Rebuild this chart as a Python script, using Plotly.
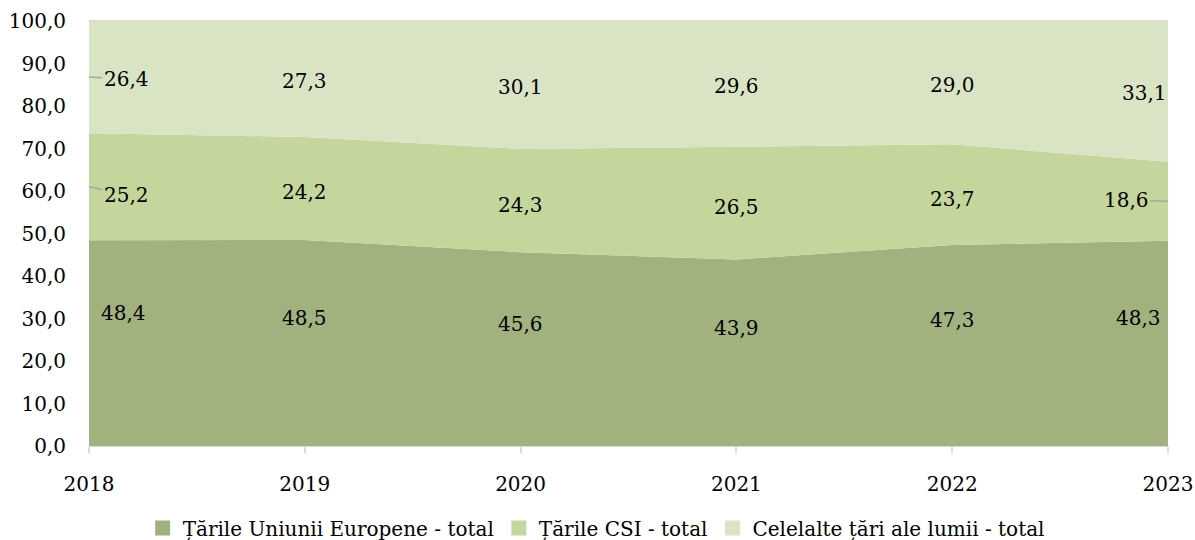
import plotly.graph_objects as go

years = [2018, 2019, 2020, 2021, 2022, 2023]
eu = [48.4, 48.5, 45.6, 43.9, 47.3, 48.3]
csi = [25.2, 24.2, 24.3, 26.5, 23.7, 18.6]
other = [26.4, 27.3, 30.1, 29.6, 29.0, 33.1]
names = ["Țările Uniunii Europene - total", "Țările CSI - total", "Celelalte țări ale lumii - total"]
colors = ["#A2B27F", "#C4D69B", "#D9E4C4"]
y_ticks = [0, 10, 20, 30, 40, 50, 60, 70, 80, 90, 100]

FONT = "DejaVu Serif"
fig = go.Figure()
series = [eu, csi, other]
for vals, nm, col in zip(series, names, colors):
    fig.add_trace(go.Scatter(
        x=years, y=vals, name=nm, stackgroup="one", mode="none",
        fillcolor=col, hoverinfo="skip", showlegend=False,
    ))
# legend entries with square markers
for nm, col in zip(names, colors):
    fig.add_trace(go.Scatter(
        x=[None], y=[None], mode="markers", name=nm,
        marker=dict(symbol="square", size=15, color=col), showlegend=True,
    ))

# data labels placed relative to band midpoints
base = [0.0] * len(years)
label_yshift = [25, -4, -2]
last_xshift = [-30, -42, -24]
for si, vals in enumerate(series):
    for i, (yr, v) in enumerate(zip(years, vals)):
        mid = base[i] + v / 2
        xshift = 0
        yshift = label_yshift[si]
        leader = False
        if i == 0:
            xshift = 37 if si != 0 else 34
            leader = si != 0
            if si == 0:
                yshift = 30
            if si == 1:
                yshift = -8
        elif i == len(years) - 1:
            xshift = last_xshift[si]
            if si == 1:
                yshift = 1
                leader = True
        txt = f"{v:.1f}".replace(".", ",")
        if leader:
            fig.add_annotation(
                x=yr, y=mid, text=txt, showarrow=True, arrowhead=0,
                arrowcolor="#A6A6A6", arrowwidth=1.5, ax=xshift, ay=-yshift,
                axref="pixel", ayref="pixel", standoff=0,
                font=dict(family=FONT, size=20, color="#000000"),
            )
        else:
            fig.add_annotation(
                x=yr, y=mid, text=txt, showarrow=False, xshift=xshift,
                yshift=yshift,
                font=dict(family=FONT, size=20, color="#000000"),
            )
    base = [b + v for b, v in zip(base, vals)]

fig.update_layout(
    width=1195, height=540,
    margin=dict(l=89, r=27, t=21, b=94, autoexpand=False),
    paper_bgcolor="white", plot_bgcolor="white",
    separators=",.",
    font=dict(family=FONT, size=20, color="#000000"),
    showlegend=True,
    legend=dict(orientation="h", x=0.47, xanchor="center", y=-0.193, yanchor="middle",
                traceorder="normal", font=dict(family=FONT, size=20)),
    xaxis=dict(range=[2018, 2023], tickvals=years, ticktext=[str(y) for y in years],
               showgrid=False, zeroline=False, showline=True, linecolor="#D9D9D9",
               mirror=True, ticks="outside", tickcolor="#D9D9D9", ticklen=6, tickwidth=1.5,
               automargin=False, ticklabeloverflow="allow", ticklabelstandoff=14),
    yaxis=dict(range=[0, 100], tickvals=y_ticks, tickformat=".1f", showgrid=False,
               zeroline=False, showline=False, ticks="", ticklabelstandoff=22,
               automargin=False),
)

fig.write_html(
    "out.html",
    config={"displayModeBar": False},
    post_script="document.body.style.margin='0';document.body.style.overflow='hidden';",
)
